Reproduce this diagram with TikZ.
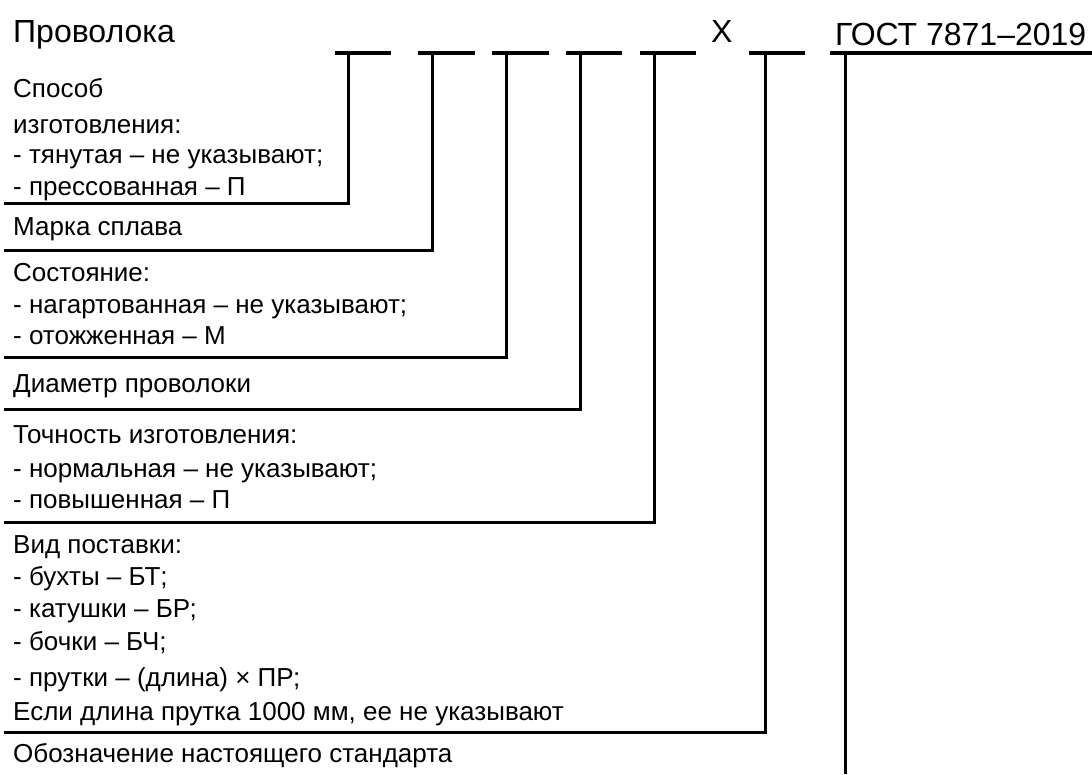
\documentclass[tikz,border=0pt]{standalone}
\usepackage{fontspec}
\setmainfont{Liberation Sans}
\begin{document}
\begin{tikzpicture}[x=1pt,y=-1pt,
  body/.style={anchor=base west, inner sep=0pt, font=\fontsize{26}{30}\selectfont},
  big/.style={anchor=base west, inner sep=0pt, font=\fontsize{32}{36}\selectfont},
  bar/.style={line width=4.3pt},
  lead/.style={line width=3pt, line join=miter}]
\useasboundingbox (0,0) rectangle (1092,774);
% heading
\node[big] (title) at (13,42) {Проволока};
\node[big] (xx) at (711,42) {Х};
\node[big] (gost) at (835,45) {ГОСТ 7871–2019};
% bars (left end, right end, leader top)
\foreach \n/\a/\b/\v in {1/335/391/348, 2/418/475/432, 3/492/549/506, 4/566/622/580, 5/640/696/654, 6/749/805/765, 7/830/1092/845}{
  \coordinate (bl\n) at (\a,53);
  \coordinate (br\n) at (\b,53);
  \coordinate (t\n) at (\v,53);
}
\foreach \n in {1,...,7}{ \draw[bar] (bl\n) -- (br\n); }
% leader start points
\coordinate (s1) at (4,203);
\coordinate (s2) at (4,250);
\coordinate (s3) at (4,357);
\coordinate (s4) at (4,409);
\coordinate (s5) at (4,522);
\coordinate (s6) at (4,732);
\coordinate (e7) at (845,774);
\foreach \n in {1,...,6}{ \draw[lead] (s\n) -| (t\n); }
\draw[lead] (t7) -- (e7);
% group 1
\node[body] (g1a) at (13,97) {Способ};
\node[body] (g1b) at (13,133) {изготовления:};
\node[body] (g1c) at (13,163) {- тянутая – не указывают;};
\node[body] (g1d) at (13,195) {- прессованная – П};
% group 2
\node[body] (g2a) at (13,235) {Марка сплава};
% group 3
\node[body] (g3a) at (13,281) {Состояние:};
\node[body] (g3b) at (13,313) {- нагартованная – не указывают;};
\node[body] (g3c) at (13,344) {- отожженная – М};
% group 4
\node[body] (g4a) at (13,392) {Диаметр проволоки};
% group 5
\node[body] (g5a) at (13,443) {Точность изготовления:};
\node[body] (g5b) at (13,477) {- нормальная – не указывают;};
\node[body] (g5c) at (13,508) {- повышенная – П};
% group 6
\node[body] (g6a) at (13,553) {Вид поставки:};
\node[body] (g6b) at (13,585) {- бухты – БТ;};
\node[body] (g6c) at (13,617) {- катушки – БР;};
\node[body] (g6d) at (13,650) {- бочки – БЧ;};
\node[body] (g6e) at (13,686) {- прутки – (длина) × ПР;};
\node[body] (g6f) at (13,720) {Если длина прутка 1000 мм, ее не указывают};
% group 7
\node[body] (g7a) at (13,762) {Обозначение настоящего стандарта};
\end{tikzpicture}
\end{document}
